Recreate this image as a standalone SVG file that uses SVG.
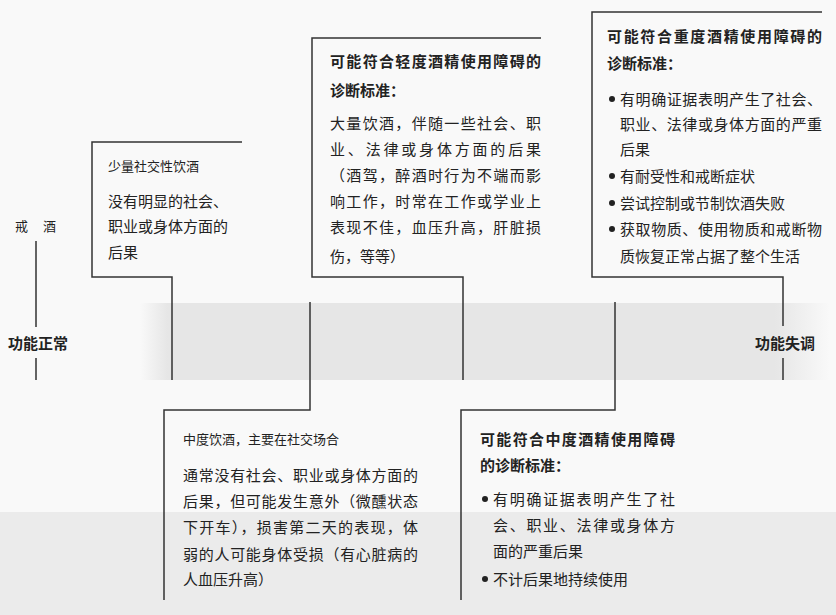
<svg xmlns="http://www.w3.org/2000/svg" width="836" height="615" viewBox="0 0 836 615">
<defs>
<linearGradient id="band" x1="0" x2="1" y1="0" y2="0">
<stop offset="0" stop-color="#f9f9f9"/><stop offset="0.04" stop-color="#e6e6e6"/><stop offset="0.92" stop-color="#e6e6e6"/><stop offset="1" stop-color="#f9f9f9"/>
</linearGradient>
</defs>
<style>
text{font-family:"Noto Sans CJK SC","Noto Sans",sans-serif;fill:#222;dominant-baseline:central}
.t{font-size:15px;font-weight:bold}
.b{font-size:15px}
.s{font-size:13px}
.l{fill:none;stroke:#333;stroke-width:1.5}
.d{fill:#222}
</style>
<rect width="836" height="615" fill="#f9f9f9"/>
<rect x="140" y="303" width="690" height="77" fill="url(#band)"/>
<rect x="0" y="512" width="836" height="103" fill="#ebebeb"/>
<g id="connectors">
<path class="l" d="M36 241V327M36 358V380"/>
<path class="l" d="M242 142H92V277H172V380"/>
<path class="l" d="M541 38H312V277H463V380"/>
<path class="l" d="M822 12H592V277H783V326M783 358V380"/>
<path class="l" d="M310 302V410H164V600"/>
<path class="l" d="M615 302V410H461V600"/>
</g>
<g id="abstain"><text class="s" x="15" y="225">戒</text><text class="s" x="43" y="225">酒</text></g>
<g id="normal"><text class="t" x="8" y="342">功能正常</text></g>
<g id="dysfunction"><text class="t" x="755" y="342">功能失调</text></g>
<g id="light">
<text class="s" x="108" y="165">少量社交性饮酒</text>
<text class="b" x="108" y="200">没有明显的社会、</text>
<text class="b" x="108" y="225">职业或身体方面的</text>
<text class="b" x="108" y="251">后果</text>
</g>
<g id="mild">
<text class="t" x="330" y="60" textLength="211">可能符合轻度酒精使用障碍的</text>
<text class="t" x="330" y="89">诊断标准：</text>
<text class="b" x="330" y="122" textLength="211">大量饮酒，伴随一些社会、职</text>
<text class="b" x="330" y="148" textLength="211">业、法律或身体方面的后果</text>
<text class="b" x="330" y="174" textLength="211">（酒驾，醉酒时行为不端而影</text>
<text class="b" x="330" y="200" textLength="211">响工作，时常在工作或学业上</text>
<text class="b" x="330" y="226" textLength="211">表现不佳，血压升高，肝脏损</text>
<text class="b" x="330" y="255">伤，等等）</text>
</g>
<g id="severe">
<text class="t" x="607" y="35" textLength="215">可能符合重度酒精使用障碍的</text>
<text class="t" x="607" y="62">诊断标准：</text>
<circle class="d" cx="612" cy="99" r="3"/><text class="b" x="620" y="98" textLength="202">有明确证据表明产生了社会、</text>
<text class="b" x="620" y="123" textLength="202">职业、法律或身体方面的严重</text>
<text class="b" x="620" y="148">后果</text>
<circle class="d" cx="612" cy="176" r="3"/><text class="b" x="620" y="175">有耐受性和戒断症状</text>
<circle class="d" cx="612" cy="203" r="3"/><text class="b" x="620" y="202">尝试控制或节制饮酒失败</text>
<circle class="d" cx="612" cy="229" r="3"/><text class="b" x="620" y="228" textLength="202">获取物质、使用物质和戒断物</text>
<text class="b" x="620" y="255">质恢复正常占据了整个生活</text>
</g>
<g id="moderate">
<text class="s" x="183" y="438">中度饮酒，主要在社交场合</text>
<text class="b" x="183" y="474" textLength="235">通常没有社会、职业或身体方面的</text>
<text class="b" x="183" y="500" textLength="235">后果，但可能发生意外（微醺状态</text>
<text class="b" x="183" y="526" textLength="235">下开车），损害第二天的表现，体</text>
<text class="b" x="183" y="553" textLength="235">弱的人可能身体受损（有心脏病的</text>
<text class="b" x="183" y="578">人血压升高）</text>
</g>
<g id="moderate-dx">
<text class="t" x="480" y="438" textLength="195">可能符合中度酒精使用障碍</text>
<text class="t" x="480" y="464">的诊断标准：</text>
<circle class="d" cx="485" cy="499" r="3"/><text class="b" x="493" y="498" textLength="182">有明确证据表明产生了社</text>
<text class="b" x="493" y="524" textLength="182">会、职业、法律或身体方</text>
<text class="b" x="493" y="550">面的严重后果</text>
<circle class="d" cx="485" cy="579" r="3"/><text class="b" x="493" y="578">不计后果地持续使用</text>
</g>
</svg>
